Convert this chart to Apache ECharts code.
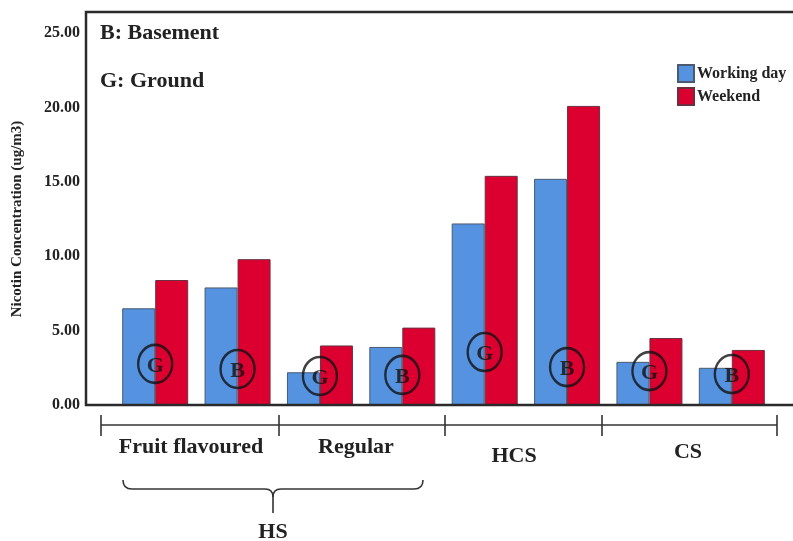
<!DOCTYPE html>
<html>
<head>
<meta charset="utf-8">
<script src="https://cdn.jsdelivr.net/npm/echarts@6/dist/echarts.min.js"></script>
<style>
html,body{margin:0;padding:0;background:#fff;}
#chart{width:793px;height:541px;}
</style>
</head>
<body>
<div id="chart"></div>
<script>
// ---- data ----
const categories = ['Fruit flavoured G', 'Fruit flavoured B', 'Regular G', 'Regular B', 'HCS G', 'HCS B', 'CS G', 'CS B'];
const workingDay = [6.5, 7.9, 2.2, 3.9, 12.2, 15.2, 2.9, 2.5];
const weekend = [8.4, 9.8, 4.0, 5.2, 15.4, 20.1, 4.5, 3.7];
const siteLabels = ['G', 'B', 'G', 'B', 'G', 'B', 'G', 'B'];
const siteMarkerY = [2.76, 2.42, 1.95, 2.02, 3.56, 2.55, 2.28, 2.08];
const groupLabels = ['Fruit flavoured', 'Regular', 'HCS', 'CS'];
const yMin = 0, yMax = 25, yStep = 5;

const FONT = '"Liberation Serif", "DejaVu Serif", serif';
const BLUE = '#5592e0';
const RED = '#dc0030';

const chart = echarts.init(document.getElementById('chart'), null, {renderer: 'canvas'});

const markerData = siteMarkerY.map((y, i) => [i, y]);
const LS = {stroke: '#333', lineWidth: 1.6, fill: null};

function line(x1, y1, x2, y2, style) {
  return {type: 'line', shape: {x1, y1, x2, y2}, style: style || LS};
}
function curve(x1, y1, cx, cy, x2, y2) {
  return {type: 'bezierCurve', shape: {x1, y1, x2, y2, cpx1: cx, cpy1: cy}, style: LS};
}
function txt(text, x, y, size, align) {
  return {type: 'text', x, y, style: {text, font: 'bold ' + size + 'px ' + FONT, fill: '#222', textAlign: align || 'center', textVerticalAlign: 'middle'}};
}

const option = {
  backgroundColor: '#ffffff',
  animation: false,
  grid: {left: 114, right: 20, top: 33, bottom: 136},
  legend: {
    data: ['Working day', 'Weekend'],
    orient: 'vertical',
    left: 672, top: 59,
    itemWidth: 16, itemHeight: 17, itemGap: 4,
    icon: 'rect',
    textStyle: {fontFamily: FONT, fontWeight: 'bold', fontSize: 16, color: '#222', padding: [0, 0, 0, -2]}
  },
  xAxis: {
    type: 'category',
    data: categories,
    axisLine: {show: false},
    axisTick: {show: false},
    axisLabel: {show: false},
    splitLine: {show: false}
  },
  yAxis: {
    type: 'value',
    min: yMin, max: yMax, interval: yStep,
    offset: 28,
    name: 'Nicotin Concentration (ug/m3)',
    nameLocation: 'middle',
    nameGap: 61,
    nameTextStyle: {fontFamily: FONT, fontWeight: 'bold', fontSize: 15, color: '#222'},
    axisLine: {show: false},
    axisTick: {show: false},
    splitLine: {show: false},
    axisLabel: {
      margin: 6,
      fontFamily: FONT, fontWeight: 'bold', fontSize: 16, color: '#222',
      formatter: v => v.toFixed(2)
    }
  },
  series: [
    {
      name: 'Working day', type: 'bar', data: workingDay,
      barWidth: 33, barGap: '0%',
      itemStyle: {color: BLUE, borderColor: '#4a5a70', borderWidth: 1}
    },
    {
      name: 'Weekend', type: 'bar', data: weekend,
      barWidth: 33, barGap: '0%',
      itemStyle: {color: RED, borderColor: '#6a3040', borderWidth: 1}
    },
    {
      name: 'Site', type: 'scatter', data: markerData,
      symbol: 'circle', symbolSize: [34, 38], z: 5,
      itemStyle: {color: 'rgba(0,0,0,0)', borderColor: '#111', borderWidth: 2.5},
      label: {
        show: true, position: 'inside', offset: [0, 2],
        formatter: p => siteLabels[p.dataIndex],
        fontFamily: FONT, fontWeight: 'bold', fontSize: 22, color: '#111'
      },
      emphasis: {disabled: true}
    }
  ],
  graphic: [
    {type: 'polyline', shape: {points: [[793, 12], [86, 12], [86, 405], [793, 405]]}, style: {stroke: '#2a2a2a', lineWidth: 2.5, fill: null}, z: 10},
    txt('B: Basement', 100, 33, 22, 'left'),
    txt('G: Ground', 100, 81, 22, 'left'),
    line(101, 425, 777, 425),
    line(101, 415, 101, 436),
    line(279, 415, 279, 436),
    line(445, 415, 445, 436),
    line(602, 415, 602, 436),
    line(777, 415, 777, 436),
    txt(groupLabels[0], 191, 447, 22),
    txt(groupLabels[1], 356, 447, 22),
    txt(groupLabels[2], 514, 456, 22),
    txt(groupLabels[3], 688, 452, 22),
    curve(123, 480, 123, 489, 132, 489),
    line(132, 489, 265, 489),
    curve(265, 489, 273, 489, 273, 497),
    line(273, 497, 273, 513),
    curve(273, 497, 273, 489, 281, 489),
    line(281, 489, 414, 489),
    curve(414, 489, 423, 489, 423, 480),
    txt('HS', 273, 532, 22)
  ]
};
chart.setOption(option);
</script>
</body>
</html>
